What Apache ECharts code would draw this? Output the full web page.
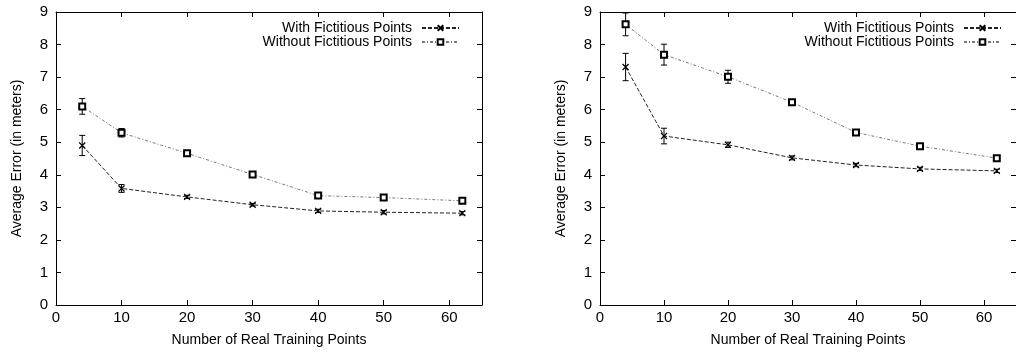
<!DOCTYPE html>
<html>
<head>
<meta charset="utf-8">
<script src="https://cdn.jsdelivr.net/npm/echarts@6/dist/echarts.min.js"></script>
<style>
  html, body { margin: 0; padding: 0; background: #fff; }
  #chart { width: 1016px; height: 353px; }
</style>
</head>
<body>
<div id="chart"></div>
<script>
// Number of real training points used at each measurement
const trainingPoints = [4, 10, 20, 30, 40, 50, 62];

// Left panel: average error (m) and error-bar half-widths
const leftWith = [4.90, 3.58, 3.32, 3.08, 2.89, 2.85, 2.82];
const leftWithErr = [0.31, 0.12, 0.05, 0.04, 0.05, 0.05, 0.05];
const leftWithout = [6.10, 5.29, 4.66, 4.01, 3.36, 3.30, 3.20];
const leftWithoutErr = [0.24, 0.13, 0.05, 0.05, 0.05, 0.05, 0.05];

// Right panel: average error (m) and error-bar half-widths
const rightWith = [7.31, 5.19, 4.92, 4.52, 4.30, 4.18, 4.12];
const rightWithErr = [0.42, 0.24, 0.08, 0.06, 0.05, 0.05, 0.05];
const rightWithout = [8.62, 7.69, 7.01, 6.23, 5.30, 4.88, 4.51];
const rightWithoutErr = [0.35, 0.32, 0.20, 0.07, 0.05, 0.05, 0.04];

const NAME_WITH = 'With Fictitious Points';
const NAME_WITHOUT = 'Without Fictitious Points';

const FONT = "'Liberation Sans', Arial, Helvetica, sans-serif";
const INK = '#000';

const pairs = (xs, ys) => xs.map((x, i) => [x, ys[i]]);
const bars = (xs, ys, es) => xs.map((x, i) => [x, ys[i] - es[i], ys[i] + es[i]]);

const crossSymbol = 'path://M0,0L10,10M10,0L0,10';

function renderErrorBar(params, api) {
  const x = api.value(0);
  const top = api.coord([x, api.value(2)]);
  const bot = api.coord([x, api.value(1)]);
  const w = 3;
  const st = { stroke: INK, lineWidth: 1 };
  return {
    type: 'group',
    children: [
      { type: 'line', shape: { x1: top[0], y1: top[1], x2: bot[0], y2: bot[1] }, style: st },
      { type: 'line', shape: { x1: top[0] - w, y1: top[1], x2: top[0] + w, y2: top[1] }, style: st },
      { type: 'line', shape: { x1: bot[0] - w, y1: bot[1], x2: bot[0] + w, y2: bot[1] }, style: st }
    ]
  };
}

const frameLine = { show: true, onZero: false, lineStyle: { color: INK, width: 1 } };
const innerTick = { show: true, inside: true, length: 5, lineStyle: { color: INK } };

function bottomX(gridIndex) {
  return {
    type: 'value', gridIndex, position: 'bottom', min: 0, max: 65, interval: 10,
    name: 'Number of Real Training Points', nameLocation: 'middle', nameGap: 28,
    nameTextStyle: { fontFamily: FONT, fontSize: 14, color: INK },
    axisLine: frameLine, axisTick: innerTick,
    axisLabel: { fontFamily: FONT, fontSize: 15, color: INK, margin: 5, showMaxLabel: false },
    splitLine: { show: false }
  };
}
function topX(gridIndex) {
  return {
    type: 'value', gridIndex, position: 'top', min: 0, max: 65, interval: 10,
    axisLine: frameLine, axisTick: innerTick,
    axisLabel: { show: false }, splitLine: { show: false }
  };
}
function leftY(gridIndex) {
  return {
    type: 'value', gridIndex, position: 'left', min: 0, max: 9, interval: 1,
    name: 'Average Error (in meters)', nameLocation: 'middle', nameGap: 32,
    nameTextStyle: { fontFamily: FONT, fontSize: 14, color: INK },
    axisLine: frameLine, axisTick: innerTick,
    axisLabel: { fontFamily: FONT, fontSize: 15, color: INK, margin: 8 },
    splitLine: { show: false }
  };
}
function rightY(gridIndex) {
  return {
    type: 'value', gridIndex, position: 'right', min: 0, max: 9, interval: 1,
    axisLine: frameLine, axisTick: innerTick,
    axisLabel: { show: false }, splitLine: { show: false }
  };
}

function withSeries(data, xi, yi) {
  return {
    name: NAME_WITH, type: 'line', xAxisIndex: xi, yAxisIndex: yi, data,
    symbol: crossSymbol, symbolSize: 6, showSymbol: true,
    itemStyle: { color: INK, borderColor: INK, borderWidth: 1.2 },
    lineStyle: { color: '#222', width: 1, type: [4, 2] },
    animation: false, z: 3
  };
}
function withoutSeries(data, xi, yi) {
  return {
    name: NAME_WITHOUT, type: 'line', xAxisIndex: xi, yAxisIndex: yi, data,
    symbol: 'emptyRect', symbolSize: 6, showSymbol: true,
    itemStyle: { color: INK, borderColor: INK, borderWidth: 1.2 },
    lineStyle: { color: '#777', width: 1, type: [3, 2, 1, 2] },
    animation: false, z: 3
  };
}
function errSeries(data, xi, yi) {
  return {
    type: 'custom', xAxisIndex: xi, yAxisIndex: yi, data,
    encode: { x: 0, y: [1, 2] }, renderItem: renderErrorBar,
    animation: false, silent: true, z: 2
  };
}

function legendAt(right) {
  return {
    orient: 'vertical', align: 'right', right, top: 16,
    itemWidth: 37, itemHeight: 7, itemGap: 0,
    selectedMode: false,
    textStyle: { fontFamily: FONT, fontSize: 14, color: INK, padding: [0, 5, 0, 0], lineHeight: 14 },
    data: [NAME_WITH, NAME_WITHOUT]
  };
}

const chart = echarts.init(document.getElementById('chart'), null, { renderer: 'canvas' });
chart.setOption({
  backgroundColor: '#fff',
  animation: false,
  grid: [
    { left: 56, top: 12, width: 426, height: 293 },
    { left: 600, top: 12, width: 426, height: 293 }
  ],
  legend: [legendAt(1016 - 465), legendAt(1016 - 1007)],
  xAxis: [bottomX(0), topX(0), bottomX(1), topX(1)],
  yAxis: [leftY(0), rightY(0), leftY(1), rightY(1)],
  series: [
    errSeries(bars(trainingPoints, leftWith, leftWithErr), 0, 0),
    errSeries(bars(trainingPoints, leftWithout, leftWithoutErr), 0, 0),
    withSeries(pairs(trainingPoints, leftWith), 0, 0),
    withoutSeries(pairs(trainingPoints, leftWithout), 0, 0),
    errSeries(bars(trainingPoints, rightWith, rightWithErr), 2, 2),
    errSeries(bars(trainingPoints, rightWithout, rightWithoutErr), 2, 2),
    withSeries(pairs(trainingPoints, rightWith), 2, 2),
    withoutSeries(pairs(trainingPoints, rightWithout), 2, 2)
  ]
});
</script>
</body>
</html>
